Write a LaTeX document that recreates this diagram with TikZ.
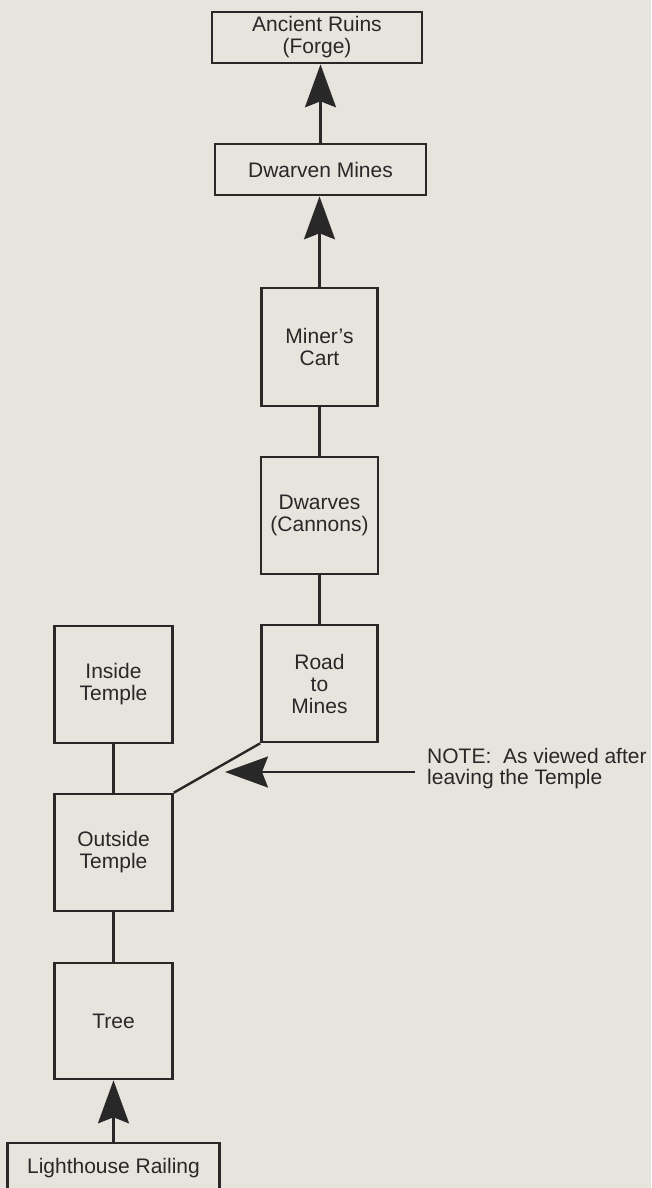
\documentclass[tikz,border=0pt]{standalone}
\usepackage{fontspec}
\setmainfont{Liberation Sans}
\usetikzlibrary{arrows.meta, positioning}
\definecolor{papier}{RGB}{231,228,222}
\definecolor{tinte}{RGB}{40,40,40}
\tikzset{>={Stealth[length=43pt, width=31pt, inset=6pt]}}
\tikzset{raum/.style={draw=tinte, line width=2.6pt, text=tinte, align=center,
    inner sep=0pt, font=\fontsize{21}{22}\selectfont}}

\begin{document}
\begin{tikzpicture}[x=1pt, y=-1pt, line width=2.4pt, draw=tinte]

            % Papier als Hintergrund
            \fill[papier] (0,0) rectangle (651,1188);
            \useasboundingbox (0,0) rectangle (651,1188);

            % rechte Spalte: Weg zu den Minen
            \node[raum, minimum width=210pt, minimum height=51pt] (ruinen) at (317,37.5) {Ancient Ruins\\(Forge)};
            \node[raum, minimum width=211pt, minimum height=51pt] (minen) at (320.5,169.5) {Dwarven Mines};
            \node[raum, minimum width=116pt, minimum height=118pt] (karren) at (319.5,347) {Miner's\\Cart};
            \node[raum, minimum width=117pt, minimum height=117pt] (zwerge) at (319.5,515.5) {Dwarves\\(Cannons)};
            \node[raum, minimum width=116pt, minimum height=117pt] (strasse) at (319.5,683.5) {Road\\to\\Mines};

            % linke Spalte: Tempel und Leuchtturm
            \node[raum, minimum width=118pt, minimum height=117pt] (innen) at (113.5,684.5) {Inside\\Temple};
            \node[raum, minimum width=118pt, minimum height=117pt] (aussen) at (113.5,852.5) {Outside\\Temple};
            \node[raum, minimum width=118pt, minimum height=116pt] (baum) at (113.5,1021) {Tree};
            \node[raum, minimum width=212pt, minimum height=50pt] (gelaender) at (113.5,1168) {Lighthouse Railing};

            % Verbindungen
            \draw[->] (minen.north) -- (minen.north |- ruinen.south);
            \draw[->] (karren.north) -- (karren.north |- minen.south);
            \draw (karren.south) -- (zwerge.north);
            \draw (zwerge.south) -- (strasse.north);
            \draw (strasse.south west) -- (aussen.north east);
            \draw (innen.south) -- (aussen.north);
            \draw (aussen.south) -- (baum.north);
            \draw[->] (gelaender.north) -- (baum.south);

            % Hinweis mit Pfeil
            \node[anchor=west, align=left, text=tinte, inner xsep=11pt, inner ysep=0pt,
                font=\fontsize{21}{21}\selectfont] (notiz) at (415,769) {NOTE:\ \ As viewed after\\leaving the Temple};
            \coordinate (spitze) at (225,772);
            \draw[->] (notiz.west |- spitze) -- (spitze);

         \end{tikzpicture}
\end{document}
